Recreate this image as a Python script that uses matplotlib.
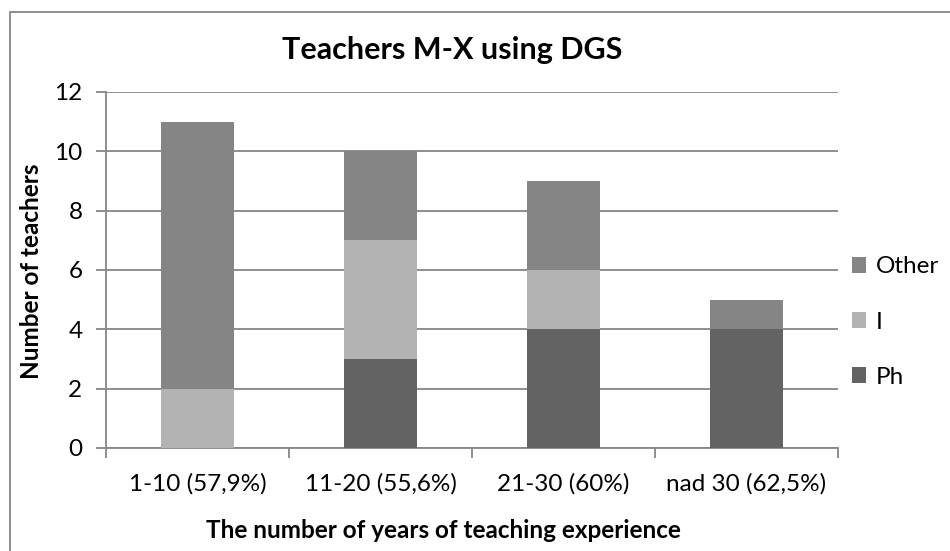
import matplotlib
matplotlib.use('Agg')
import matplotlib.pyplot as plt
import matplotlib.patches as patches
import numpy as np

# data
categories = ['1-10 (57,9%)', '11-20 (55,6%)', '21-30 (60%)', 'nad 30 (62,5%)']
ph    = [0, 3, 4, 4]
inter = [2, 4, 2, 0]
other = [9, 3, 3, 1]

plt.rcParams['font.family'] = ['Lato', 'DejaVu Sans']

W, H = 950, 551
fig = plt.figure(figsize=(W/100., H/100.), dpi=100)
ax = fig.add_axes([106./W, 1-448./H, (838.-106.)/W, (448.-92.)/H])

x = np.arange(len(categories))
ph = np.array(ph); inter = np.array(inter); other = np.array(other)
c_ph, c_i, c_ot = '#636363', '#b3b3b3', '#858585'
b1 = ax.bar(x, ph, width=0.4, color=c_ph, zorder=3)
b2 = ax.bar(x, inter, width=0.4, bottom=ph, color=c_i, zorder=3)
b3 = ax.bar(x, other, width=0.4, bottom=ph+inter, color=c_ot, zorder=3)

fs = 17.5
ax.set_xlim(-0.5, len(categories)-0.5)
ax.set_ylim(0, 12)
ax.set_yticks(range(0, 13, 2))
ax.yaxis.grid(True, color='#868686', lw=1.3, zorder=0)
ax.set_xticks(x)
ax.set_xticklabels(categories, fontsize=fs)
ax.set_xticks(np.arange(-0.5, len(categories)), minor=True)
ax.tick_params(axis='x', which='major', length=0, pad=18)
ax.tick_params(axis='x', which='minor', length=7, color='#868686', width=1.3)
ax.tick_params(axis='y', length=7, color='#868686', width=1.3, labelsize=fs, pad=10)
for s in ['top', 'right']:
    ax.spines[s].set_visible(False)
for s in ['left', 'bottom']:
    ax.spines[s].set_color('#868686')
    ax.spines[s].set_linewidth(1.3)

fig.text(452./W, 1-50./H, 'Teachers M-X using DGS', ha='center', va='center',
         fontsize=22, fontweight='bold')
fig.text(32./W, 1-271./H, 'Number of teachers', ha='center', va='center',
         rotation=90, fontsize=fs, fontweight='bold')
fig.text(443./W, 1-530./H, 'The number of years of teaching experience', ha='center',
         va='center', fontsize=fs, fontweight='bold')

fig.legend([b3, b2, b1], ['Other', 'I', 'Ph'], loc='center left',
           bbox_to_anchor=(842./W, 1-322./H), frameon=False, fontsize=fs,
           handlelength=0.6, handleheight=0.6, handletextpad=0.4,
           labelspacing=1.4, borderaxespad=0)

# outer chart border
fig.patches.append(patches.Rectangle((10./W, -0.1), 1.2, 1.1-12./H, transform=fig.transFigure,
                                     fill=False, edgecolor='#868686', lw=1.3))

fig.savefig('out.png', dpi=100)
